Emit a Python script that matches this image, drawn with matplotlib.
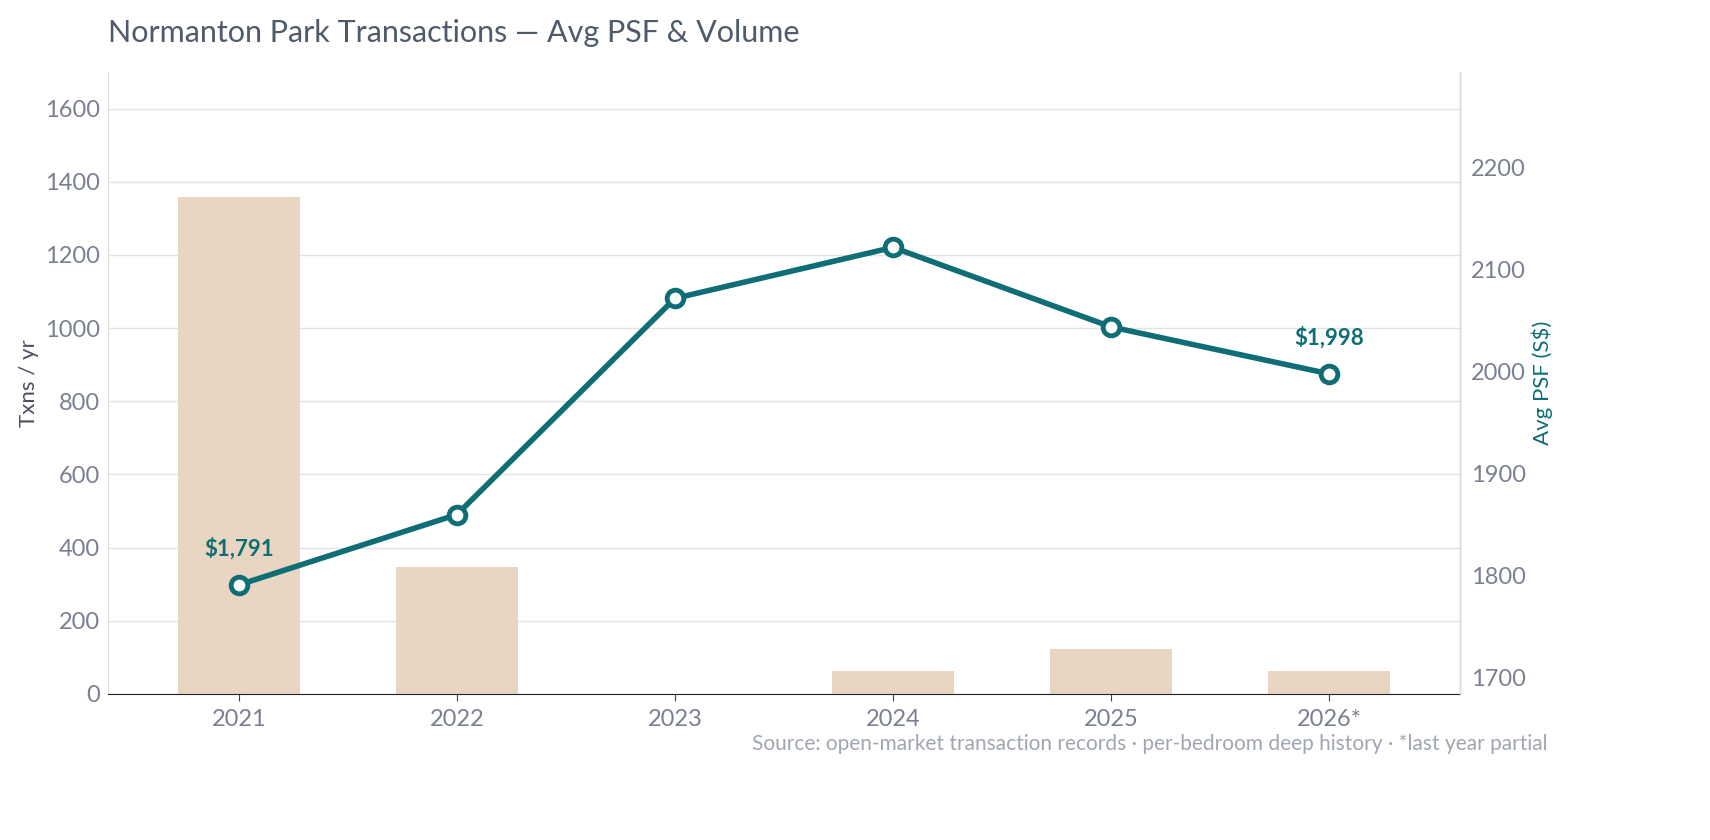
import matplotlib
matplotlib.use("Agg")
import matplotlib.pyplot as plt

plt.rcParams['font.family'] = ['Lato', 'DejaVu Sans']

years = ["2021", "2022", "2023", "2024", "2025", "2026*"]
txns = [1357, 347, 0, 63, 123, 63]
psf = [1791, 1860, 2072, 2122, 2044, 1998]

fig = plt.figure(figsize=(17.1, 8.4), dpi=100)
ax = fig.add_axes([108/1710, 1-694/840, (1460-108)/1710, (694-72)/840])
ax2 = ax.twinx()
x = list(range(len(years)))
ax.bar(x, txns, width=0.56, color='#e8d6c2', zorder=2)
ax.set_ylim(0, 1700)
ax.set_yticks(range(0, 1601, 200))
ax.set_xlim(-0.6, 5.6)
ax.set_xticks(x)
ax.set_xticklabels(years)
ax.grid(axis='y', color='#e3e3e3', lw=1, zorder=0)
ax.set_axisbelow(True)
for s in ['top']:
    ax.spines[s].set_visible(False)
    ax2.spines[s].set_visible(False)
ax.spines['left'].set_color('#dddddd')
ax2.spines['left'].set_visible(False)
ax2.spines['right'].set_color('#dddddd')
ax.spines['bottom'].set_color('#222222')
ax2.spines['bottom'].set_visible(False)
ax.tick_params(colors='#7a8090', labelsize=17, length=0, pad=6)
ax.tick_params(axis='x', length=5, color='#444444', labelcolor='#7a8090')
ax2.tick_params(colors='#7a8090', labelsize=17, length=0, pad=8)
ax.set_ylabel("Txns / yr", color='#4a5060', fontsize=16)

ax2.plot(x, psf, color='#0f6e75', lw=4, marker='o', ms=12, mfc='white', mec='#0f6e75', mew=3.5, zorder=5)
ax2.set_ylim(1684, 2294)
ax2.set_yticks(range(1700, 2201, 100))
ax2.set_ylabel("Avg PSF (S$)", color='#0f6e75', fontsize=16)
for i in (0, 5):
    ax2.annotate(f"${psf[i]:,}", (x[i], psf[i]), xytext=(0, 18), textcoords='offset points',
                 ha='center', va='bottom', color='#0f6e75', fontsize=16, fontweight='bold')

fig.text(108/1710, 1-33/840, "Normanton Park Transactions — Avg PSF & Volume", fontsize=22,
         color='#4f5b6a', va='center')
fig.text(1548/1710, 1-744/840, "Source: open-market transaction records · per-bedroom deep history · *last year partial",
         fontsize=15, color='#a0a6b0', ha='right', va='center')
fig.savefig("out.png", dpi=100)
